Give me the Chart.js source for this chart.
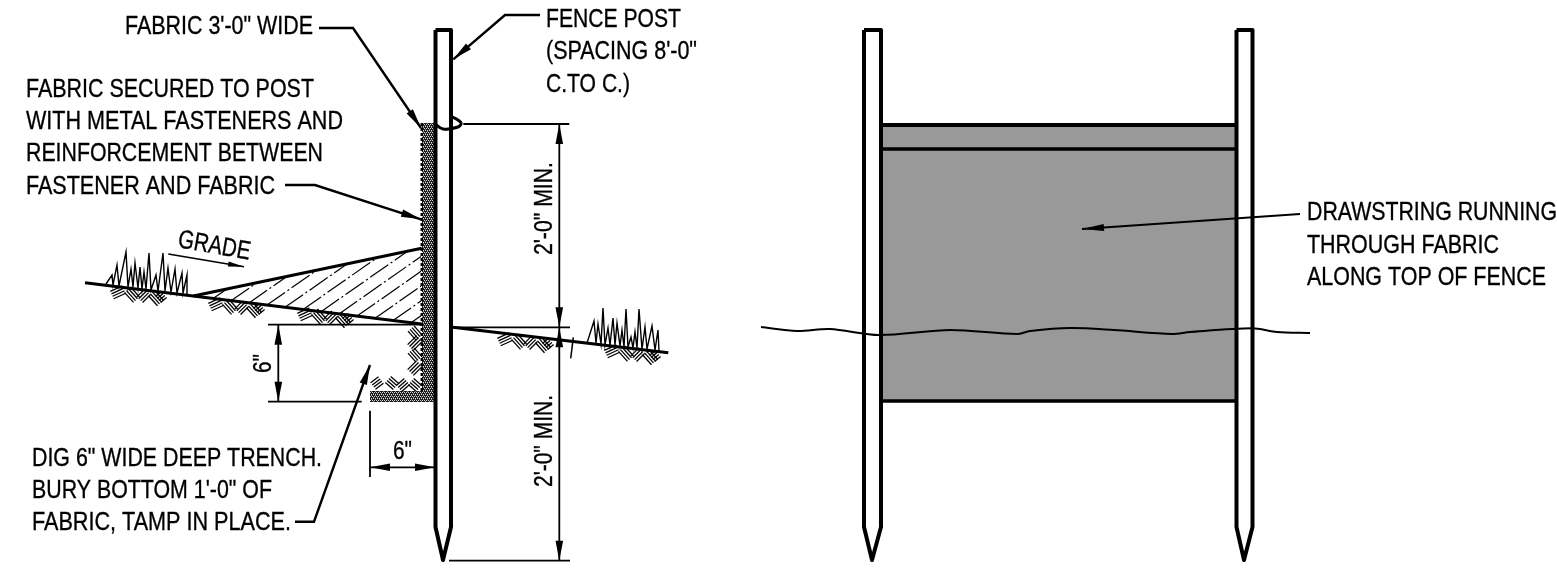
<!DOCTYPE html>
<html>
<head>
<meta charset="utf-8">
<title>Silt fence detail</title>
<style>
  html, body { margin: 0; padding: 0; background: #fff; }
  canvas { display: block; }
</style>
<script src="https://cdn.jsdelivr.net/npm/chart.js@4/dist/chart.umd.min.js"></script>
</head>
<body>
<canvas id="detail" width="1557" height="585"></canvas>
<script>
// =========================
// Line work ([x, y] in drawing units)
// =========================
const sectionPost = [[435.5, 30], [451, 30], [451, 527], [443, 560], [435.5, 527], [435.5, 30]];
const leftPost = [[864, 30], [881, 30], [881, 527], [872, 560], [864, 527], [864, 30]];
const rightPost = [[1236.5, 30], [1252.5, 30], [1252.5, 527], [1244, 560], [1236.5, 527], [1236.5, 30]];

const fabricPanel = [[881, 125], [1236, 125], [1236, 401], [881, 401]];
const panelTop = [[881, 125], [1236, 125]];
const panelHem = [[881, 149], [1236, 149]];
const panelBottom = [[881, 401], [1236, 401]];

const stringGround = [[761, 327], [797, 331], [830, 329], [879, 335], [950, 330], [1017, 334], [1030, 331],
  [1070, 328], [1114, 330], [1172, 334], [1190, 332], [1252, 328.3], [1277, 332], [1310, 333]];

const fabricSection = [[422, 123], [434, 123], [434, 402], [370, 402], [370, 391], [422, 391]];
const fabricTeeth = [[421.8, 123], [421.8, 391]];
const drawstringLoop = [[435, 124], [443, 129], [458, 127], [461, 122.7], [453, 117.3], [449, 117.3]];

const groundLeft = [[85, 282.7], [421.7, 324]];
const groundRight = [[452.7, 327.3], [668.3, 352.7]];
const backfillTop = [[193.3, 296], [421.7, 248.3]];
const breakTick = [[573.3, 337.3], [570.7, 358.3]];

const grassLeft = [[106, 284], [112, 275], [113, 285], [117, 265], [119, 286], [126, 252], [128, 287], [131, 269],
  [133, 287], [135, 263], [138, 288], [140, 267], [142, 289], [144, 272], [146, 289], [149, 253], [151, 290],
  [156, 275], [158, 291], [163, 253], [165, 291], [168, 268], [171, 292], [175, 269], [177, 293], [182, 273],
  [183, 293], [187, 275], [187, 294]];
const grassRight = [[587, 343], [594, 321], [596, 343], [598, 324], [601, 344], [603, 308], [605, 345], [608, 328],
  [610, 345], [613, 318], [615, 345], [617, 323], [620, 346], [622, 330], [624, 347], [626, 309], [628, 347],
  [631, 337], [633, 348], [635, 332], [637, 348], [639, 309], [642, 349], [645, 327], [647, 349], [652, 326],
  [655, 350], [658, 330], [659, 351]];

// earth symbol: herringbone groups as [centre x, centre y, stroke dx, stroke dy]
const earthSymbol = [[8, 4.3, 12, -5.5], [22, 6.7, 9, 10], [33.7, 7.7, 8, -8], [46, 10, 9, 10], [51, 9, 6, -5]];
const earthAnchors = [[110, 288], [208, 300], [297, 310], [497, 335], [604, 347]];
const trenchEarth = [
  [415, 333, 8, 9], [415, 343, 9, -9], [415, 355, 8, 9], [415, 368, 9, -9],
  [377, 383, 8, -6], [392, 383, 8, 7], [403, 385, 8, -7], [415, 385, 8, 7],
];

// backfill hatching (start on the ground line, end on the top or at the fabric)
const backfillHatch = [
  [[213, 298.5], [227, 289]], [[231, 300.7], [257, 282.7]], [[249, 302.9], [287, 276.4]],
  [[267, 305], [317, 270]], [[285, 307.3], [347.4, 263.8]], [[303, 309.5], [377.4, 257.5]],
  [[321, 311.7], [407.5, 251.3]], [[339, 313.9], [421, 256.5]], [[357, 316.1], [421, 271.3]],
  [[375, 318.3], [421, 286.1]], [[393, 320.5], [421, 300.9]], [[411, 322.7], [421, 315.7]],
];

// =========================
// Leaders and dimensions
// =========================
const leaderFabric = [[319, 28], [353, 28], [421, 128]];
const leaderSecured = [[285, 185], [315, 185], [421, 219.3]];
const leaderPost = [[540, 15], [505, 15], [453.3, 59.3]];
const leaderTrench = [[295, 521.7], [314, 521.7], [370, 365]];
const leaderString = [[1300, 214], [1082, 229]];
const gradeArrow = [[168.3, 254], [244, 266.7]];

const dimLines = [
  [[463.3, 124], [569.3, 124]],
  [[451.7, 327.3], [570, 327.3]],
  [[449, 560.7], [570, 560.7]],
  [[559.3, 124], [559.3, 560.7]],
  [[268, 324.7], [421.7, 324.7]],
  [[268, 401.7], [361.7, 401.7]],
  [[278.3, 324.7], [278.3, 401.7]],
  [[370, 410.7], [370, 477]],
  [[370, 467.3], [436.7, 467.3]],
];

// [tip, point the head looks back towards]
const dimArrowheads = [
  [[559.3, 124], [559.3, 200]], [[559.3, 327.3], [559.3, 260]], [[559.3, 327.3], [559.3, 400]],
  [[559.3, 560.7], [559.3, 500]], [[278.3, 324.7], [278.3, 380]], [[278.3, 401.7], [278.3, 350]],
  [[370, 467.3], [420, 467.3]], [[435, 467.3], [390, 467.3]],
];
const leaderArrowheads = [
  [leaderFabric[2], leaderFabric[1]], [leaderSecured[2], leaderSecured[1]], [leaderPost[2], leaderPost[1]],
  [leaderTrench[2], leaderTrench[1]], [leaderString[1], leaderString[0]],
];

// =========================
// Notes
// =========================
const noteTexts = [
  "FABRIC 3'-0\" WIDE", "FABRIC SECURED TO POST", "WITH METAL FASTENERS AND", "REINFORCEMENT BETWEEN",
  "FASTENER AND FABRIC", "GRADE", "FENCE POST", "(SPACING 8'-0\"", "C.TO C.)", "2'-0\" MIN.", "2'-0\" MIN.",
  "6\"", "6\"", "DIG 6\" WIDE DEEP TRENCH.", "BURY BOTTOM 1'-0\" OF", "FABRIC, TAMP IN PLACE.",
  "DRAWSTRING RUNNING", "THROUGH FABRIC", "ALONG TOP OF FENCE",
];
const noteLeft = [125, 26, 26, 26, 26, 177, 546, 546, 546, 552, 552, 271, 393, 32, 32, 32, 1307, 1307, 1307];
const noteBaseline = [34, 97, 129, 161, 194, 247, 27, 59, 92, 255, 487, 373, 459, 466, 498, 530, 220, 253, 285];
const noteWidth = [188, 288, 317, 297, 249, 73, 135, 151, 84, 93, 92, 19, 19, 290, 240, 259, 250, 192, 239];
const noteAngle = [0, 0, 0, 0, 0, 10, 0, 0, 0, -90, -90, -90, 0, 0, 0, 0, 0, 0, 0];

// =========================
// Dataset helpers
// =========================
function stroke(points, width, extra) {
  return Object.assign({
    data: points.map(([x, y]) => ({ x, y })),
    showLine: true,
    borderColor: "#000",
    borderWidth: width,
    borderCapStyle: "butt",
    borderJoinStyle: "miter",
    pointRadius: 0,
    fill: false,
    clip: false,
  }, extra);
}

function solid(points, color) {
  return stroke(points, 0, { fill: "shape", backgroundColor: color, borderColor: color });
}

// long thin head, built back along the line from its tip
function arrowhead([tip, back], length, halfWidth) {
  const dx = back[0] - tip[0];
  const dy = back[1] - tip[1];
  const d = Math.hypot(dx, dy);
  const ux = dx / d;
  const uy = dy / d;
  const bx = tip[0] + ux * length;
  const by = tip[1] + uy * length;
  return solid([tip, [bx - uy * halfWidth, by + ux * halfWidth], [bx + uy * halfWidth, by - ux * halfWidth]], "#000");
}

// one herringbone group: four parallel short strokes side by side
function earthGroup([cx, cy, dx, dy]) {
  const len = Math.hypot(dx, dy);
  const nx = -dy / len;
  const ny = dx / len;
  return [-1.5, -0.5, 0.5, 1.5].map((k) => {
    const ox = cx + nx * k * 2.7;
    const oy = cy + ny * k * 2.7;
    return stroke([[ox - dx / 2, oy - dy / 2], [ox + dx / 2, oy + dy / 2]], 1.3);
  });
}

// speckled look of the fabric section
function fabricPattern() {
  const tile = document.createElement("canvas");
  tile.width = 4;
  tile.height = 4;
  const c = tile.getContext("2d");
  c.fillStyle = "#1a1a1a";
  c.fillRect(0, 0, 4, 4);
  c.fillStyle = "#d8d8d8";
  c.fillRect(0, 0, 1, 1);
  c.fillRect(2, 0, 1, 1);
  c.fillRect(1, 2, 1, 1);
  c.fillRect(3, 2, 1, 1);
  c.fillStyle = "#8a8a8a";
  c.fillRect(1, 1, 1, 1);
  c.fillRect(3, 3, 1, 1);
  return document.getElementById("detail").getContext("2d").createPattern(tile, "repeat");
}

// =========================
// Notes are drawn at scale positions, squeezed to the drawing's narrow lettering
// =========================
const notesPlugin = {
  id: "notes",
  afterDatasetsDraw(chart) {
    const { ctx, scales } = chart;
    ctx.save();
    ctx.fillStyle = "#000";
    ctx.strokeStyle = "#000";
    ctx.lineWidth = 0.35;
    ctx.font = '26px "Liberation Sans"';
    ctx.textBaseline = "alphabetic";
    noteTexts.forEach((text, i) => {
      const squeeze = noteWidth[i] / ctx.measureText(text).width;
      ctx.save();
      ctx.translate(scales.x.getPixelForValue(noteLeft[i]), scales.y.getPixelForValue(noteBaseline[i]));
      ctx.rotate(noteAngle[i] * Math.PI / 180);
      ctx.scale(squeeze, 1);
      ctx.fillText(text, 0, 0);
      ctx.strokeText(text, 0, 0);
      ctx.restore();
    });
    ctx.restore();
  },
};

// =========================
// Build the chart (list is in paint order, last on top)
// =========================
const earthGroups = earthAnchors.flatMap(([ax, ay]) =>
  earthSymbol.map(([x, y, dx, dy]) => [ax + x, ay + y, dx, dy])
).concat(trenchEarth);

const paintOrder = [
  solid(fabricPanel, "#999999"),
  stroke(panelTop, 4),
  stroke(panelHem, 3.5),
  stroke(panelBottom, 3.5),
  stroke(leftPost, 4, { borderJoinStyle: "round" }),
  stroke(rightPost, 4, { borderJoinStyle: "round" }),
  stroke(stringGround, 2, { tension: 0.3 }),
  stroke(leaderString, 2),
  arrowhead(leaderArrowheads[4], 22, 3.5),

  ...backfillHatch.map((h) => stroke(h, 1.2, { borderDash: [22, 3, 2, 3] })),
  ...earthGroups.flatMap(earthGroup),
  stroke(grassLeft, 1.4),
  stroke(grassRight, 1.4),
  solid(fabricSection, fabricPattern()),
  stroke(fabricTeeth, 2.5, { borderDash: [3, 2] }),
  stroke(groundLeft, 3),
  stroke(groundRight, 3),
  stroke(backfillTop, 3),
  stroke(breakTick, 1.5),
  stroke(sectionPost, 4, { borderJoinStyle: "round" }),
  stroke(drawstringLoop, 3, { tension: 0.4 }),

  ...dimLines.map((d) => stroke(d, 1.8)),
  ...dimArrowheads.map((a) => arrowhead(a, 20, 3.8)),
  stroke(leaderFabric, 2.4),
  stroke(leaderSecured, 2.4),
  stroke(leaderPost, 2.4),
  stroke(leaderTrench, 2.4),
  ...leaderArrowheads.slice(0, 4).map((a) => arrowhead(a, 20, 3.8)),
  stroke(gradeArrow, 1.6),
  arrowhead([gradeArrow[1], gradeArrow[0]], 16, 2.5),
];
paintOrder.forEach((d, i) => { d.order = paintOrder.length - i; });

new Chart(document.getElementById("detail"), {
  type: "scatter",
  data: { datasets: paintOrder },
  options: {
    responsive: false,
    animation: false,
    layout: { padding: 0 },
    plugins: { legend: { display: false }, tooltip: { enabled: false } },
    scales: {
      x: { type: "linear", min: 0, max: 1557, display: false },
      y: { type: "linear", min: 0, max: 585, reverse: true, display: false },
    },
  },
  plugins: [notesPlugin],
});
</script>
</body>
</html>
